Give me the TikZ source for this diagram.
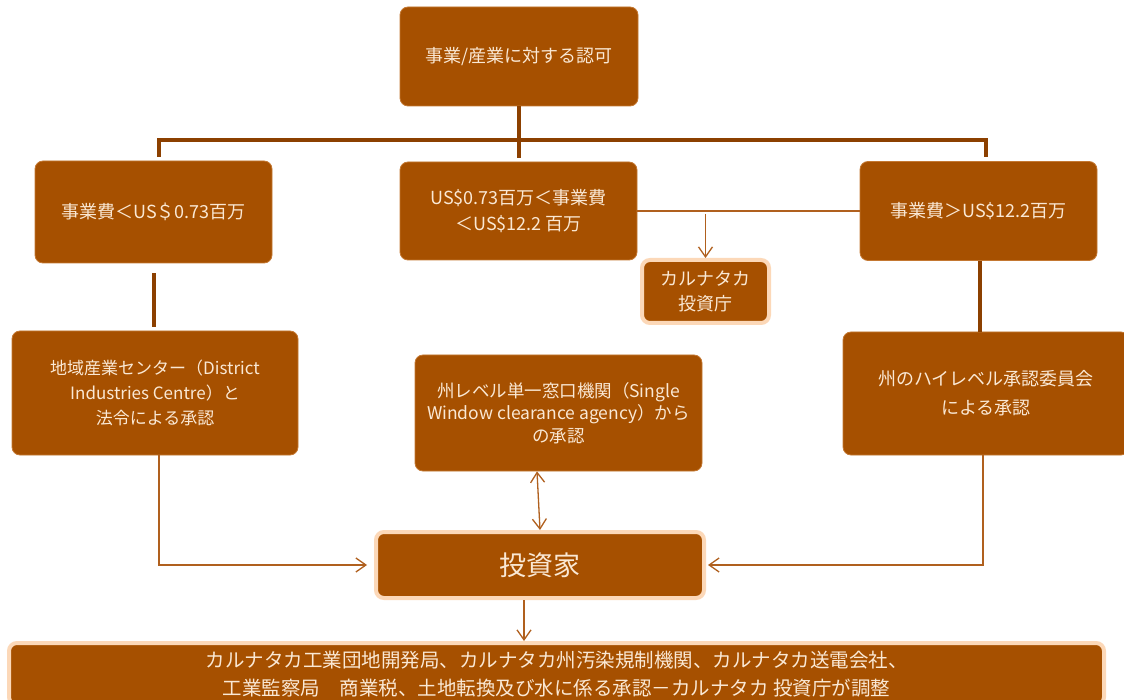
\documentclass[tikz,border=0pt]{standalone}
\usepackage{fontspec}
\setmainfont{Noto Sans CJK JP}
\usetikzlibrary{arrows.meta,calc}
\definecolor{boxfill}{RGB}{166,80,0}
\definecolor{boxedge}{RGB}{196,120,50}
\definecolor{txt}{RGB}{250,232,212}
\definecolor{peach}{RGB}{252,216,184}
\definecolor{thickc}{RGB}{140,64,0}
\definecolor{thinc}{RGB}{176,96,30}
\begin{document}
\begin{tikzpicture}[x=1pt,y=-1pt,
  box/.style={rounded corners=8pt, fill=boxfill, draw=boxedge, line width=0.8pt,
    text=txt, align=center, inner sep=0pt, font=\fontsize{18}{26}\selectfont},
  hbox/.style={box, draw=peach, line width=4pt},
  tree/.style={draw=thickc, line width=4pt},
  conn/.style={draw=thinc, line width=1.3pt},
  tip/.tip={Straight Barb[length=10pt,width=14pt]},
  arr/.style={conn, -tip}]
\fill[white] (0,0) rectangle (1124,700);
\clip (0,0) rectangle (1124,700);
\useasboundingbox (0,0) rectangle (1124,700);

\node[box, minimum width=238, minimum height=99] (top) at (519,56.5) {事業/産業に対する認可};
\node[box, minimum width=237, minimum height=102] (A) at (153.5,212) {事業費＜US＄0.73百万};
\node[box, minimum width=237, minimum height=98] (B) at (518.5,211) {US\$0.73百万＜事業費\\＜US\$12.2 百万};
\node[box, minimum width=237, minimum height=99] (C) at (978.5,211) {事業費＞US\$12.2百万};
\node[hbox, minimum width=127, minimum height=63, font=\fontsize{18}{25}\selectfont] (K) at (705.5,291.5) {カルナタカ\\投資庁};
\node[box, minimum width=286, minimum height=124, font=\fontsize{17}{25}\selectfont] (D) at (155,393) {地域産業センター（District\\Industries Centre）と\\法令による承認};
\node[box, minimum width=287, minimum height=116, font=\fontsize{17.5}{22.5}\selectfont] (E) at (558.5,413) {州レベル単一窓口機関（Single\\Window clearance agency）から\\の承認};
\node[box, minimum width=286, minimum height=123, font=\fontsize{18}{29}\selectfont] (F) at (986,393.5) {州のハイレベル承認委員会\\による承認};
\node[hbox, minimum width=328, minimum height=66, font=\fontsize{27}{30}\selectfont] (Inv) at (540,565) {投資家};
\node[hbox, minimum width=1095, minimum height=62, font=\fontsize{19.5}{28}\selectfont] (bot) at (556.5,674)
  {カルナタカ工業団地開発局、カルナタカ州汚染規制機関、カルナタカ送電会社、\\工業監察局　商業税、土地転換及び水に係る承認－カルナタカ 投資庁が調整};

% tree
\coordinate (tj) at (519,140);
\draw[tree] (top.south) -- ($(B.north)+(0.5,-4)$);
\draw[tree] ($(A.north)+(5.5,-4)$) |- (tj) -| ($(C.north)+(7.5,-4)$);
\draw[tree] ($(A.south)+(0.5,10)$) -- ($(D.north)+(-1,-4)$);
\coordinate (cr) at ($(C.south)+(1.5,0)$);
\draw[tree] (cr) -- (cr |- F.north);

% thin connectors
\draw[conn] (B.east) -- (B.east -| C.west);
\coordinate (ka) at ($(K.north |- B.east)+(0,3)$);
\draw[arr] (ka) -- (K.north);
\coordinate (ea) at ($(E.south)+(-21.5,0)$);
\draw[conn, tip-tip] (ea) -- (Inv.north);
\coordinate (da) at ($(D.south)+(4,0)$);
\coordinate (il) at ($(Inv.west)+(-7,0)$);
\draw[arr] (da) |- (il);
\coordinate (fa) at ($(F.south)+(-3,0)$);
\coordinate (ir) at ($(Inv.east)+(2,0)$);
\draw[arr] (fa) |- (ir);
\coordinate (ia) at ($(Inv.south)+(-16,0)$);
\coordinate (ib) at (ia |- bot.north);
\draw[arr] (ia) -- (ib);
\end{tikzpicture}
\end{document}
